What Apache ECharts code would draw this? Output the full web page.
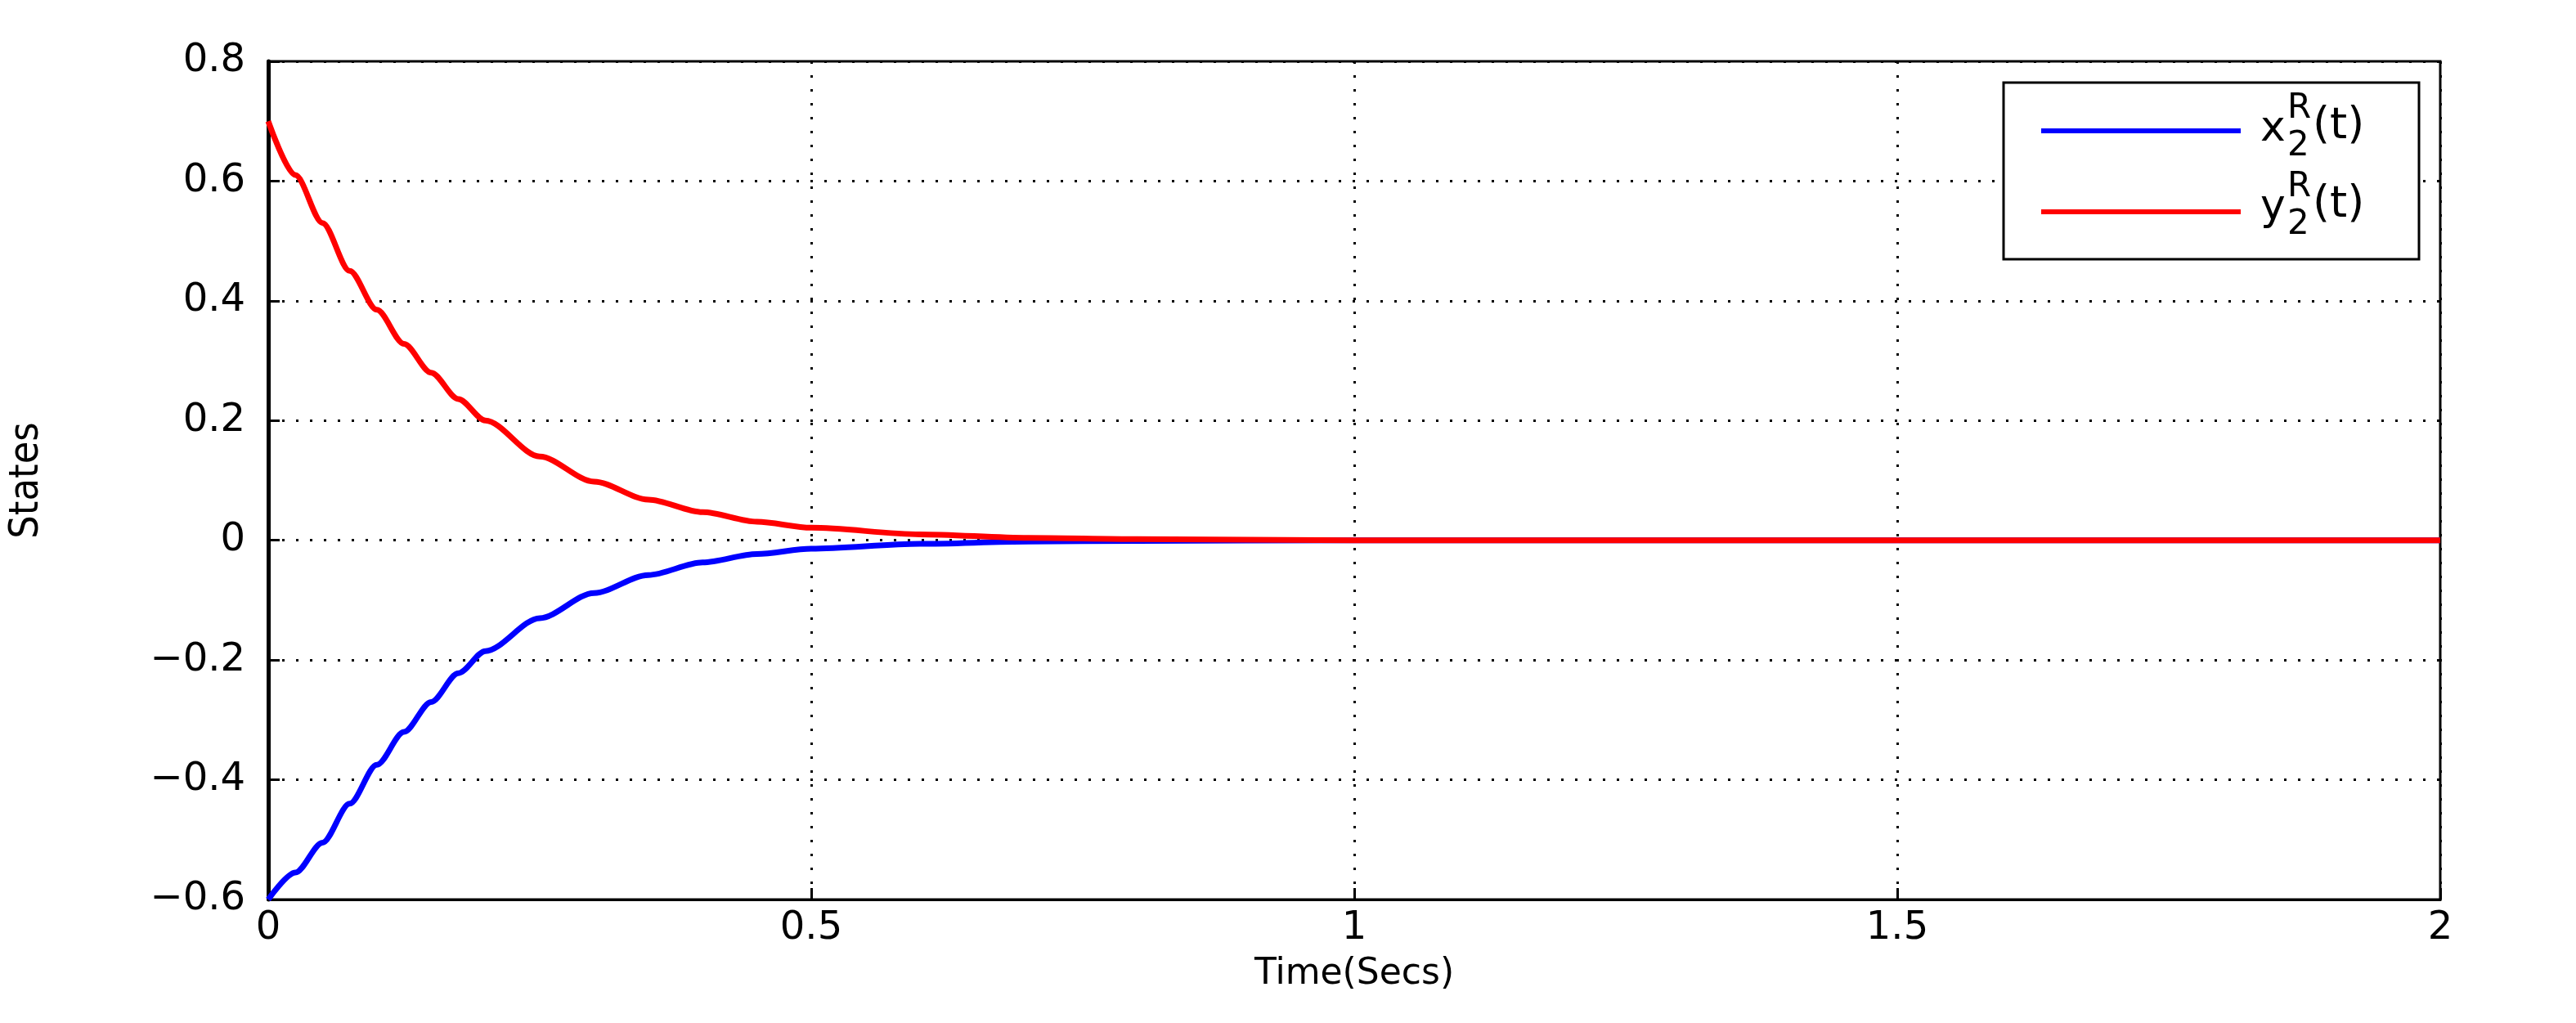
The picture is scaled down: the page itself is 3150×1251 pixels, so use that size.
<!DOCTYPE html>
<html><head><meta charset="utf-8">
<script src="https://cdn.jsdelivr.net/npm/echarts@6/dist/echarts.min.js"></script>
<style>html,body{margin:0;padding:0;background:#fff}#c{width:3150px;height:1251px}</style>
</head><body><div id="c"></div>
<script>
const times = [0,0.025,0.05,0.075,0.1,0.125,0.15,0.175,0.2,0.25,0.3,0.35,0.4,0.45,0.5,0.6,0.7,0.8,1.0,1.5,2.0];
const xValues = [-0.6,-0.555,-0.505,-0.44,-0.375,-0.32,-0.27,-0.222,-0.185,-0.13,-0.088,-0.058,-0.037,-0.023,-0.014,-0.006,-0.002,-0.001,0,0,0];
const yValues = [0.7,0.61,0.53,0.45,0.385,0.328,0.28,0.236,0.2,0.14,0.098,0.068,0.047,0.031,0.021,0.01,0.004,0.002,0,0,0];
const xTicks = [0,0.5,1,1.5,2];
const yTicks = [-0.6,-0.4,-0.2,0,0.2,0.4,0.6,0.8];
const F = 'DejaVu Sans, sans-serif';
const chart = echarts.init(document.getElementById('c'));
const fmt = v => v === 0 ? '0' : (v < 0 ? '\u2212' : '') + Math.abs(v).toString();
chart.setOption({
  animation: false,
  grid: {left: 328, right: 166, top: 75, bottom: 151, show: true, borderColor: '#000', borderWidth: 3},
  xAxis: {type: 'value', min: 0, max: 2, interval: 0.5,
    name: 'Time(Secs)', nameLocation: 'middle', nameGap: 70,
    nameTextStyle: {fontFamily: F, fontSize: 44, color: '#000'},
    axisLine: {onZero: false, lineStyle: {color: '#000', width: 3}},
    axisTick: {inside: true, length: 14, lineStyle: {color: '#000', width: 3}},
    axisLabel: {fontFamily: F, fontSize: 48, color: '#000', margin: 12, formatter: v => fmt(v)},
    splitLine: {show: true, lineStyle: {color: '#000', type: [3, 14], width: 3}}},
  yAxis: {type: 'value', min: -0.6, max: 0.8, interval: 0.2,
    name: 'States', nameLocation: 'middle', nameGap: 270,
    nameTextStyle: {fontFamily: 'Liberation Sans Narrow, DejaVu Sans Condensed, sans-serif', fontSize: 50, color: '#000'},
    axisLine: {onZero: false, lineStyle: {color: '#000', width: 5}},
    axisTick: {inside: true, length: 14, lineStyle: {color: '#000', width: 3}},
    axisLabel: {fontFamily: F, fontSize: 48, color: '#000', margin: 28, formatter: v => fmt(Math.round(v * 10) / 10)},
    splitLine: {show: true, lineStyle: {color: '#000', type: [3, 14], width: 3}}},
  series: [
    {name: 'x', type: 'line', smooth: 0.3, smoothMonotone: 'x', symbol: 'none', data: times.map((t, i) => [t, xValues[i]]), lineStyle: {color: '#0000ff', width: 7}, z: 3},
    {name: 'y', type: 'line', smooth: 0.3, smoothMonotone: 'x', symbol: 'none', data: times.map((t, i) => [t, yValues[i]]), lineStyle: {color: '#ff0000', width: 7}, z: 4}
  ],
  graphic: [
    {type: 'rect', shape: {x: 2450, y: 101, width: 508, height: 216}, style: {fill: '#fff', stroke: '#000', lineWidth: 3}, z: 10},
    {type: 'line', shape: {x1: 2496, y1: 160, x2: 2740, y2: 160}, style: {stroke: '#0000ff', lineWidth: 6}, z: 11},
    {type: 'line', shape: {x1: 2496, y1: 259, x2: 2740, y2: 259}, style: {stroke: '#ff0000', lineWidth: 6}, z: 11},
    {type: 'text', left: 2764, top: 132, style: {text: 'x', font: '52px ' + F, fill: '#000'}, z: 11},
    {type: 'text', left: 2797, top: 112, style: {text: 'R', font: '42px ' + F, fill: '#000'}, z: 11},
    {type: 'text', left: 2797, top: 158, style: {text: '2', font: '42px ' + F, fill: '#000'}, z: 11},
    {type: 'text', left: 2828, top: 128, style: {text: '(t)', font: '54px ' + F, fill: '#000'}, z: 11},
    {type: 'text', left: 2764, top: 228, style: {text: 'y', font: '52px ' + F, fill: '#000'}, z: 11},
    {type: 'text', left: 2797, top: 208, style: {text: 'R', font: '42px ' + F, fill: '#000'}, z: 11},
    {type: 'text', left: 2797, top: 254, style: {text: '2', font: '42px ' + F, fill: '#000'}, z: 11},
    {type: 'text', left: 2828, top: 224, style: {text: '(t)', font: '54px ' + F, fill: '#000'}, z: 11}
  ]
});
</script></body></html>
